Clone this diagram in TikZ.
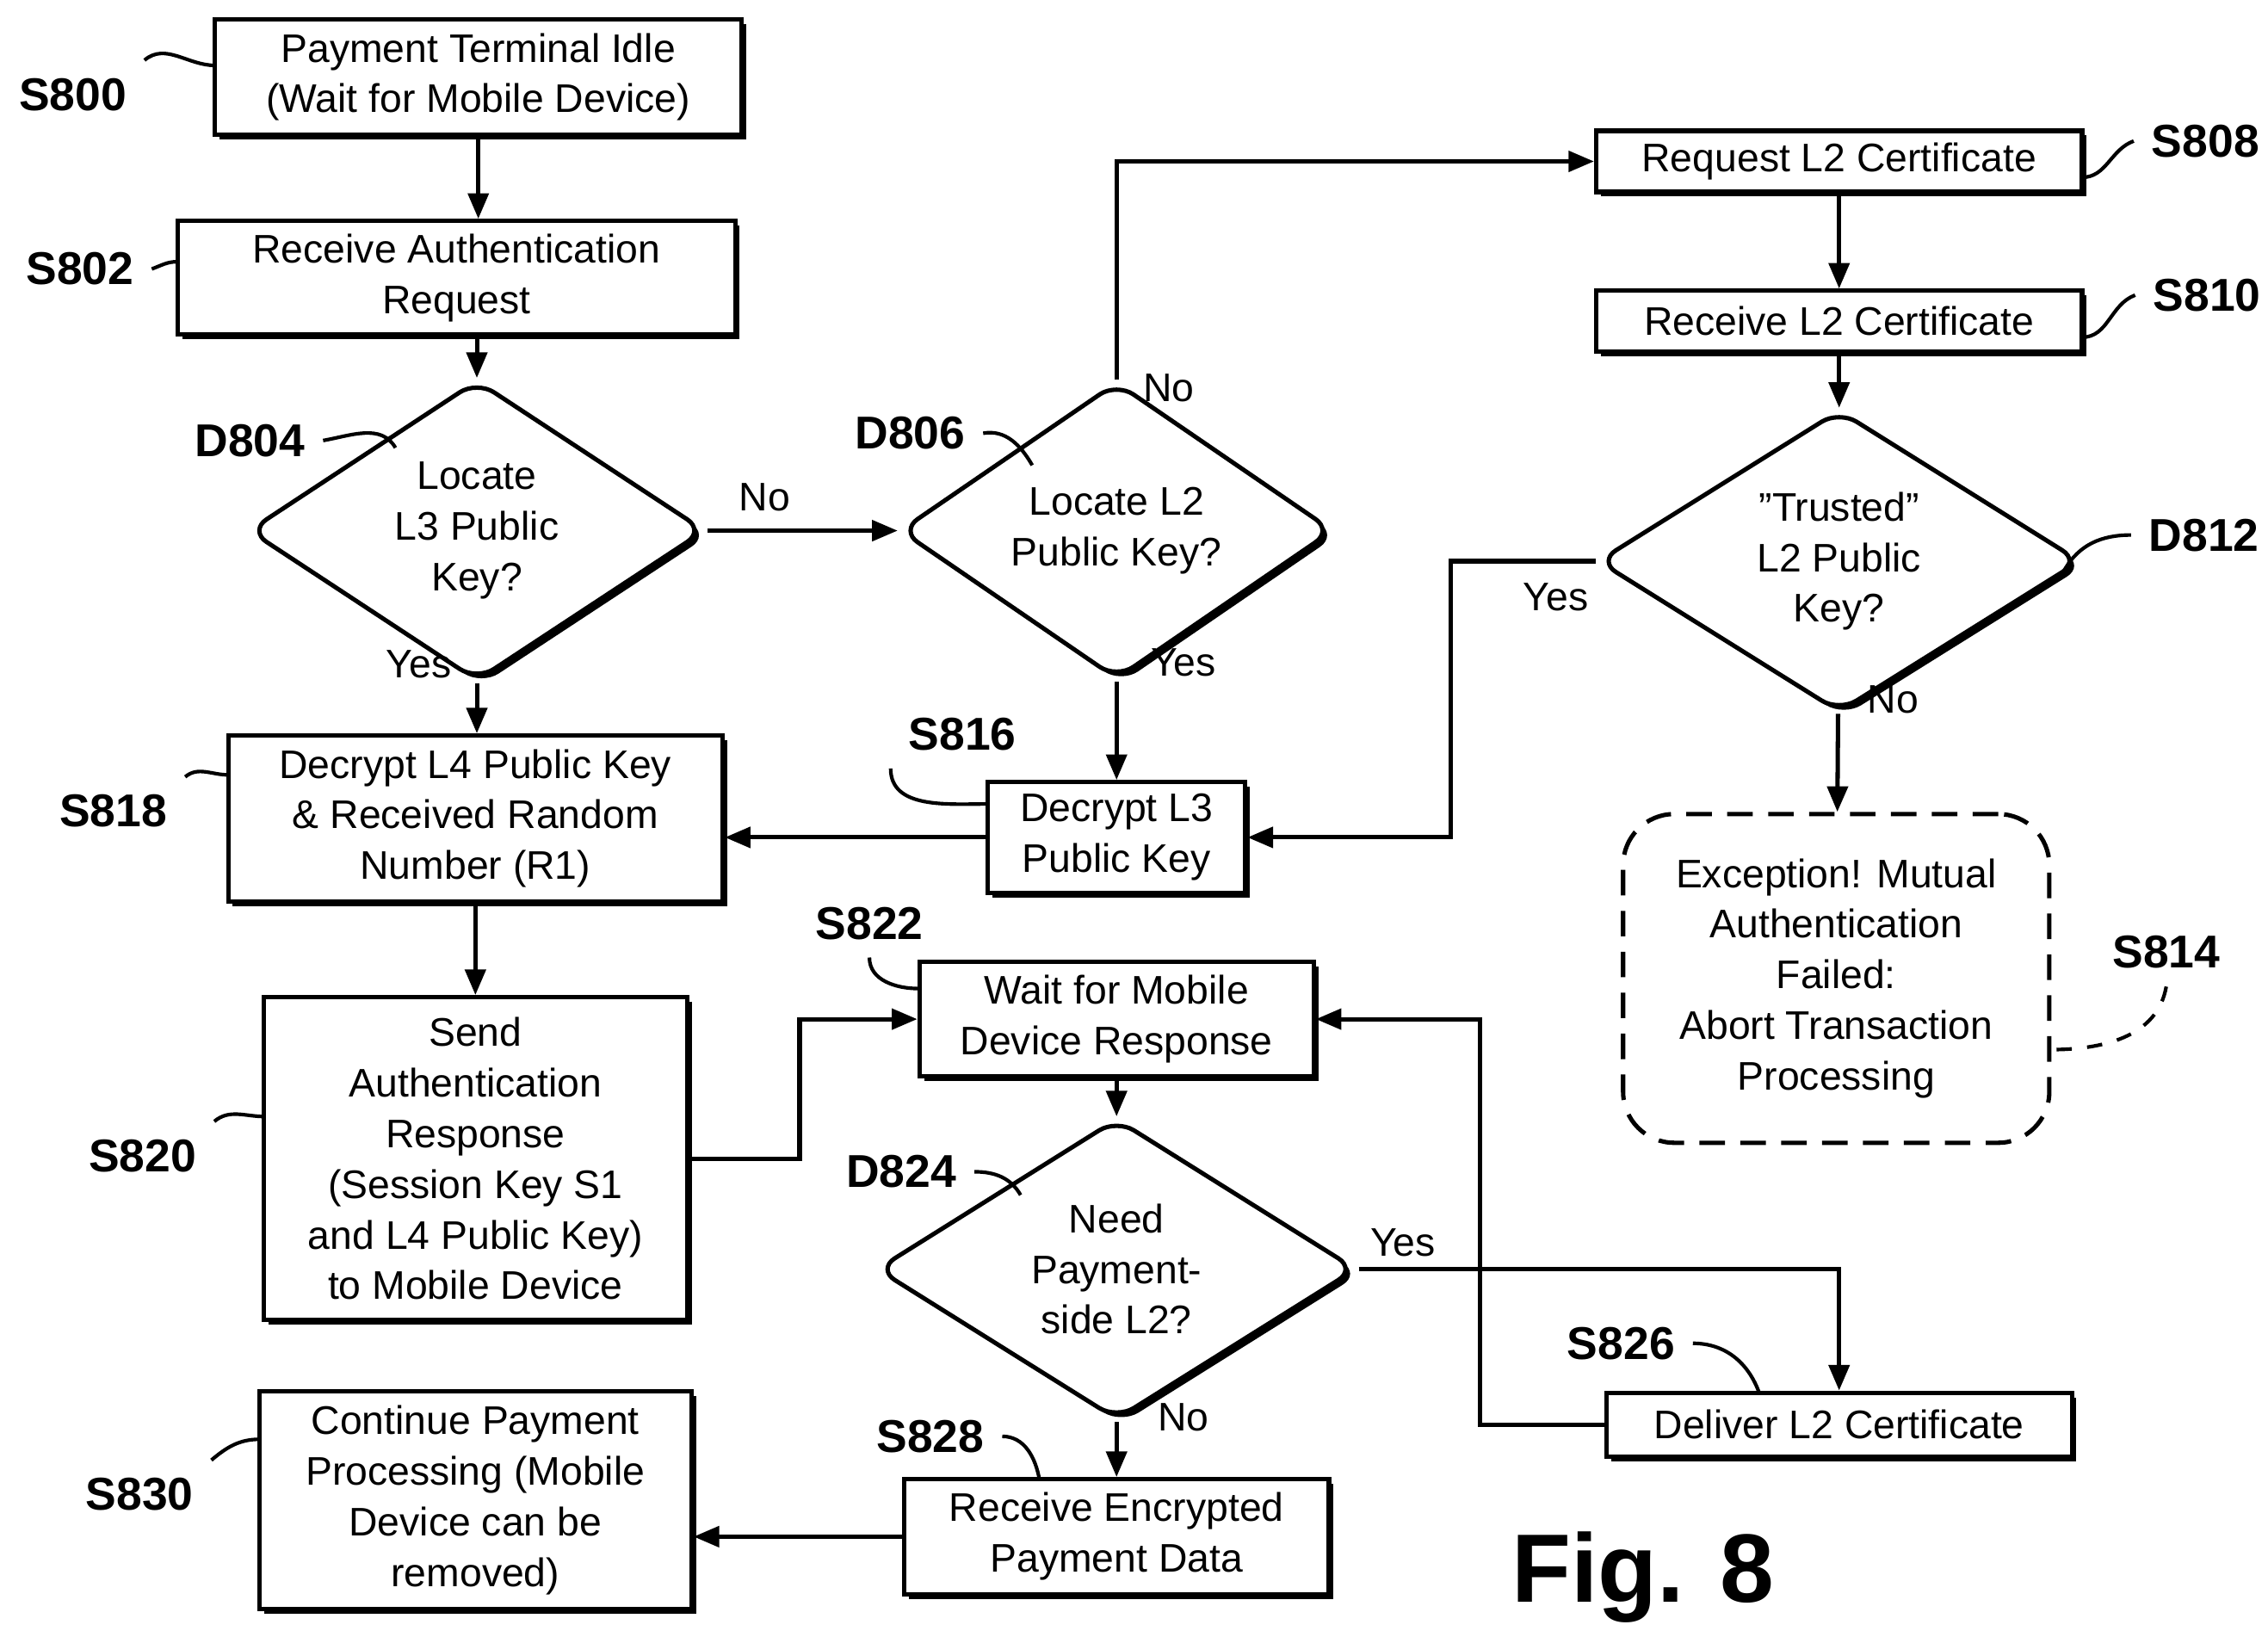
\documentclass[tikz,border=0pt]{standalone}
\usepackage{fontspec}
\setmainfont{Liberation Sans}
\usetikzlibrary{arrows.meta,shapes.geometric,shadows}
\tikzset{
  box/.style={draw, line width=0.85pt, fill=white, align=center, inner sep=1pt,
    drop shadow={shadow xshift=0.9pt,shadow yshift=-0.9pt,fill=black,opacity=1}},
  dec/.style={diamond, draw, line width=0.85pt, fill=white, align=center, inner sep=0pt,
    rounded corners=4pt,
    drop shadow={shadow xshift=0.9pt,shadow yshift=-0.9pt,fill=black,opacity=1}},
  flow/.style={line width=0.85pt, -{Triangle[length=5pt,width=4pt]}},
  lead/.style={line width=0.7pt},
  tag/.style={font=\bfseries\fontsize{9}{10}\selectfont},
  ans/.style={font=\fontsize{7.8}{10}\selectfont}
}
\begin{document}
\begin{tikzpicture}[x=0.01cm,y=-0.01cm,font=\fontsize{7.8}{9.9}\selectfont]
\useasboundingbox (0,0) rectangle (1560,1126);

% process boxes
\node[box, minimum width=3.62cm, minimum height=0.79cm] (s800) at (329,53) {Payment Terminal Idle\\(Wait for Mobile Device)};
\node[box, minimum width=3.83cm, minimum height=0.78cm] (s802) at (314,191) {Receive Authentication\\Request};
\node[box, minimum width=3.34cm, minimum height=0.42cm] (s808) at (1265,111) {Request L2 Certificate};
\node[box, minimum width=3.34cm, minimum height=0.42cm] (s810) at (1265,221) {Receive L2 Certificate};
\node[box, minimum width=1.77cm, minimum height=0.76cm] (s816) at (768,576) {Decrypt L3\\Public Key};
\node[box, minimum width=3.40cm, minimum height=1.14cm] (s818) at (327,563) {Decrypt L4 Public Key\\\& Received Random\\Number (R1)};
\node[box, minimum width=2.91cm, minimum height=2.22cm] (s820) at (327,797) {Send\\Authentication\\Response\\(Session Key S1\\and L4 Public Key)\\to Mobile Device};
\node[box, minimum width=2.71cm, minimum height=0.79cm] (s822) at (768,701) {Wait for Mobile\\Device Response};
\node[box, minimum width=3.20cm, minimum height=0.44cm] (s826) at (1265,980) {Deliver L2 Certificate};
\node[box, minimum width=2.92cm, minimum height=0.79cm] (s828) at (768,1057) {Receive Encrypted\\Payment Data};
\node[box, minimum width=2.97cm, minimum height=1.50cm] (s830) at (327,1032) {Continue Payment\\Processing (Mobile\\Device can be\\removed)};
\node[draw, line width=0.85pt, dashed, dash pattern=on 5pt off 3pt, rounded corners=10pt, align=center,
  minimum width=2.93cm, minimum height=2.26cm] (s814) at (1263,673)
  {Exception! Mutual\\Authentication\\Failed:\\Abort Transaction\\Processing};

% decisions
\node[dec, minimum width=3.14cm, minimum height=1.50cm] (d804) at (328,365) {Locate\\L3 Public\\Key?};
\node[dec, minimum width=2.98cm, minimum height=1.44cm] (d806) at (768,365) {Locate L2\\Public Key?};
\node[dec, minimum width=3.32cm, minimum height=1.59cm] (d812) at (1265,386) {"Trusted"\\L2 Public\\Key?};
\node[dec, minimum width=3.30cm, minimum height=1.55cm] (d824) at (768,873) {Need\\Payment-\\side L2?};

% connectors
\draw[flow] (s800) -- (s802.north -| s800);
\draw[flow] (s802.south -| d804) -- (d804);
\draw[flow] (d804) -- node[ans, above, pos=0.3] {No} (d806);
\draw[flow] (d806.north) -- (768,111) -- (s808);
\draw[flow] (d806) -- (s816);
\draw[flow] (s808) -- (s810);
\draw[flow] (s810) -- (d812);
\draw[flow] (d812.west) -- (998,386) -- (998,576) -- (s816);
\draw[flow] (d812) -- (s814);
\draw[flow] (s816) -- (s818.east |- s816);
\draw[flow] (d804) -- (s818.north -| d804);
\draw[flow] (s818) -- (s820);
\draw[flow] (s820.east |- 0,797) -- (550,797) -- (550,701) -- (s822);
\draw[flow] (s822) -- (d824);
\draw[flow] (d824.east) -- (1265,873) -- (s826);
\draw[flow] (s826.west) -- (1018,980) -- (1018,701) -- (s822);
\draw[flow] (d824) -- (s828);
\draw[flow] (s828) -- (s830.east |- s828);

% answers
\node[ans] (a806no) at (804,267) {No};
\node[ans] (a804yes) at (288,457) {Yes};
\node[ans] (a806yes) at (814,456) {Yes};
\node[ans] (a812yes) at (1070,411) {Yes};
\node[ans] (a812no) at (1302,481) {No};
\node[ans] (a824yes) at (965,855) {Yes};
\node[ans] (a824no) at (814,975) {No};

% step tags with leaders
\node[tag] (t800) at (50,65) {S800};
\draw[lead] (t800.north east) to[out=40,in=180] (148,45);
\node[tag] (t802) at (55,185) {S802};
\draw[lead] (t802.east) to[out=20,in=180] (122,180);
\node[tag] (t804) at (172,303) {D804};
\draw[lead] (t804.east) to[out=10,in=120] (272,308);
\node[tag] (t806) at (626,298) {D806};
\draw[lead] (t806.east) to[out=10,in=120] (710,320);
\node[tag] (t808) at (1517,97) {S808};
\draw[lead] (t808.west) to[out=200,in=0] (1432,122);
\node[tag] (t810) at (1518,203) {S810};
\draw[lead] (t810.west) to[out=200,in=0] (1432,232);
\node[tag] (t812) at (1516,368) {D812};
\draw[lead] (t812.west) to[out=180,in=60] (1420,392);
\node[tag] (t814) at (1490,655) {S814};
\draw[lead, dashed] (t814.south) to[out=260,in=0] (1410,722);
\node[tag] (t816) at (662,505) {S816};
\draw[lead] (t816.south west) to[out=270,in=180] (680,553);
\node[tag] (t818) at (78,558) {S818};
\draw[lead] (t818.north east) to[out=40,in=180] (157,533);
\node[tag] (t820) at (98,795) {S820};
\draw[lead] (t820.north east) to[out=40,in=180] (182,768);
\node[tag] (t822) at (598,635) {S822};
\draw[lead] (t822.south) to[out=270,in=180] (632,680);
\node[tag] (t824) at (620,806) {D824};
\draw[lead] (t824.east) to[out=0,in=120] (702,822);
\node[tag] (t826) at (1115,924) {S826};
\draw[lead] (t826.east) to[out=0,in=110] (1210,958);
\node[tag] (t828) at (640,988) {S828};
\draw[lead] (t828.east) to[out=0,in=100] (715,1018);
\node[tag] (t830) at (96,1028) {S830};
\draw[lead] (t830.north east) to[out=40,in=180] (179,990);

\node[font=\bfseries\fontsize{19}{22}\selectfont] (fig) at (1130,1085) {Fig. 8};
\end{tikzpicture}
\end{document}
